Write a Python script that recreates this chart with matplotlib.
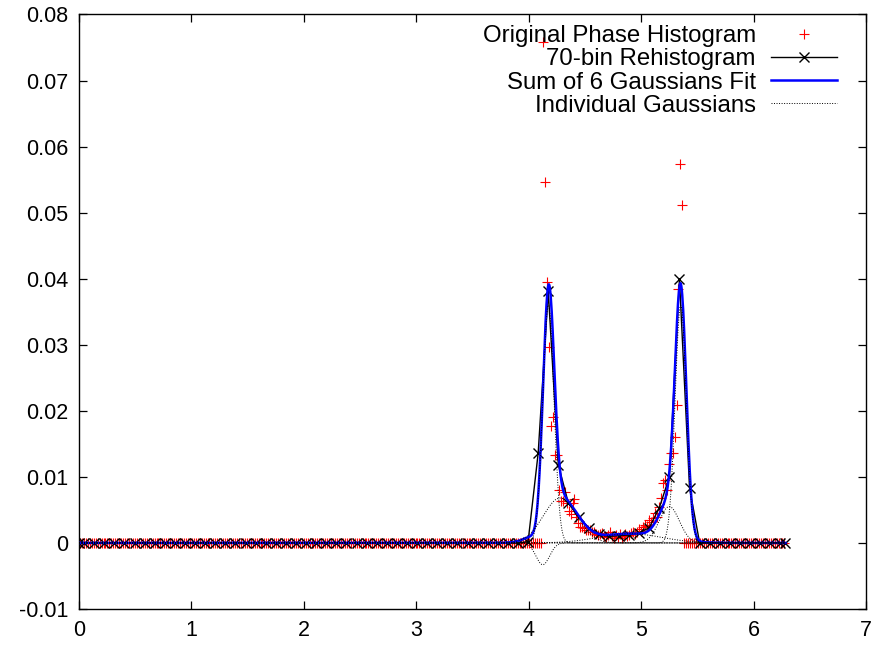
import numpy as np
import matplotlib
matplotlib.use('Agg')
import matplotlib.pyplot as plt

plt.rcParams['font.family'] = ['Liberation Sans', 'DejaVu Sans']

# --- original phase histogram: 360 one-degree bins, non-zero only around the two peaks ---
orig_first_bin = 236          # first non-zero bin index (degrees)
orig_peak_vals = [
    0.0758, 0.0547, 0.0395, 0.0297, 0.0177, 0.0191, 0.0133, 0.0133, 0.0080, 0.0064,
    0.0064, 0.0077, 0.0060, 0.0048, 0.0044, 0.0060, 0.0067, 0.0040, 0.0030, 0.0024,
    0.0024, 0.0022, 0.0020, 0.0019, 0.0020, 0.0017, 0.0017, 0.0014, 0.0012, 0.0013,
    0.0015, 0.0011, 0.0009, 0.0012, 0.0017, 0.0010, 0.0008, 0.0012, 0.0009, 0.0013,
    0.0008, 0.0011, 0.0014, 0.0010, 0.0012, 0.0015, 0.0017, 0.0013, 0.0016, 0.0021,
    0.0018, 0.0024, 0.0027, 0.0025, 0.0035, 0.0032, 0.0038, 0.0045, 0.0040, 0.0055,
    0.0068, 0.0091, 0.0095, 0.0080, 0.0120, 0.0136, 0.0136, 0.0160, 0.0209, 0.0385,
    0.0573, 0.0511,
]

# --- 70-bin rehistogram (bin centres), plus wrap points at 0 and 2*pi ---
rehist_vals = [
    0, 0, 0, 0, 0, 0, 0, 0, 0, 0,
    0, 0, 0, 0, 0, 0, 0, 0, 0, 0,
    0, 0, 0, 0, 0, 0, 0, 0, 0, 0,
    0, 0, 0, 0, 0, 0, 0, 0, 0, 0,
    0, 0, 0, 0, 0.0002, 0.0136, 0.0381, 0.0118, 0.0060, 0.0039,
    0.0023, 0.0013, 0.0010, 0.0011, 0.0012, 0.0015, 0.0023, 0.0053, 0.0100, 0.0399,
    0.0083, 0, 0, 0, 0, 0, 0, 0, 0, 0,
]

# --- six gaussian components: amplitude, centre, sigma ---
g_amp = [0.0360, -0.0033, 0.0068, 0.0014, 0.0360, 0.0055]
g_mu = [4.175, 4.125, 4.280, 4.900, 5.352, 5.250]
g_sig = [0.050, 0.060, 0.150, 0.280, 0.050, 0.090]

orig_x = np.deg2rad(np.arange(360) + 0.5)
orig_y = np.zeros(360)
orig_y[orig_first_bin:orig_first_bin + len(orig_peak_vals)] = orig_peak_vals

nb = len(rehist_vals)
rehist_x = np.concatenate([[0.0], (np.arange(nb) + 0.5) * 2 * np.pi / nb, [2 * np.pi]])
rehist_y = np.concatenate([[0.0], rehist_vals, [0.0]])

xs = np.linspace(0, 2 * np.pi, 1500)
comps = [a * np.exp(-0.5 * ((xs - m) / s) ** 2) for a, m, s in zip(g_amp, g_mu, g_sig)]
fit = np.sum(comps, axis=0)

fig = plt.figure(figsize=(8.73, 6.46), dpi=100)
ax = fig.add_axes([0.0905, 0.0573, 0.9015, 0.9203])

ax.plot(orig_x, orig_y, linestyle='none', marker='+', color='#ff0000',
        markersize=6.5, markeredgewidth=0.8, label='Original Phase Histogram', zorder=2)
ax.plot(rehist_x, rehist_y, color='black', linewidth=1.0, marker='x',
        markersize=6.5, markeredgewidth=1.0, label='70-bin Rehistogram', zorder=3)
ax.plot(xs, fit, color='#0000ff', linewidth=1.8, label='Sum of 6 Gaussians Fit', zorder=4)
for i, c in enumerate(comps):
    ax.plot(xs, c, color='black', linewidth=0.7, linestyle=(0, (1, 1.6)),
            label='Individual Gaussians' if i == 0 else None, zorder=5)

ax.set_xlim(0, 7)
ax.set_ylim(-0.01, 0.08)
ax.set_xticks(range(0, 8))
yt = [-0.01, 0, 0.01, 0.02, 0.03, 0.04, 0.05, 0.06, 0.07, 0.08]
ax.set_yticks(yt)
ax.set_yticklabels(['%g' % v for v in yt])
ax.tick_params(direction='in', top=True, right=True, length=6, width=0.9,
               labelsize=15.5, pad=8)
for sp in ax.spines.values():
    sp.set_linewidth(1.0)

leg = ax.legend(loc='upper right', bbox_to_anchor=(0.963, 0.982), frameon=False,
                markerfirst=False, numpoints=1, fontsize=17.3, handlelength=2.75,
                handletextpad=0.62, labelspacing=0.05, borderpad=0, borderaxespad=0)

fig.savefig('out.png', dpi=100)
